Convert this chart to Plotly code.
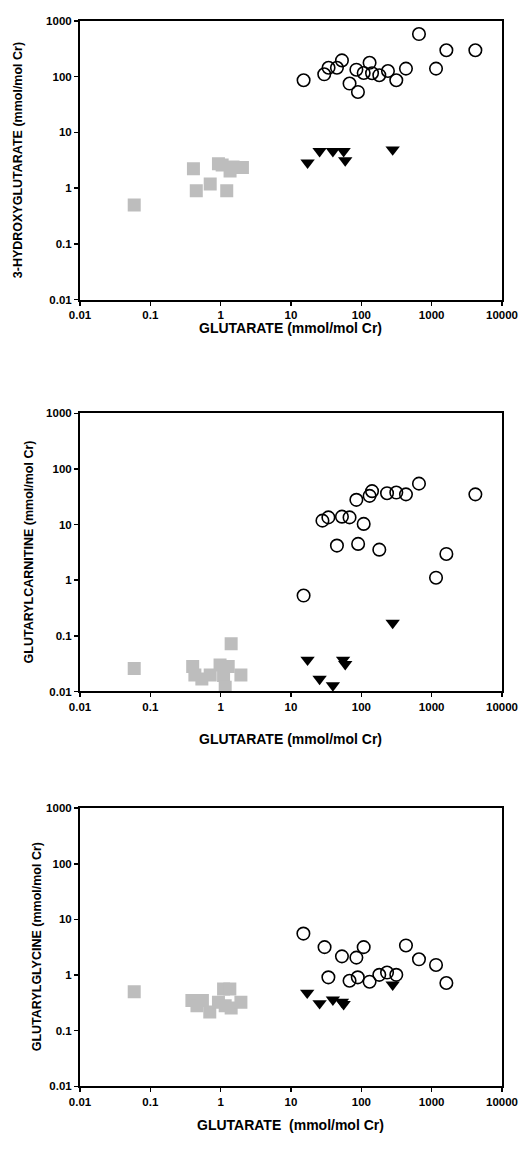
import plotly.graph_objects as go

# ---------------- data ----------------
# Panel 1: 3-hydroxyglutarate vs glutarate
p1_sq_x = [0.059, 0.41, 0.45, 0.71, 0.93, 1.05, 1.22, 1.36, 1.5, 2.04]
p1_sq_y = [0.50, 2.23, 0.90, 1.18, 2.74, 2.6, 0.90, 2.03, 2.4, 2.33]
p1_ci_x = [15.1, 29.7, 34.2, 45, 53, 68, 85, 89.5, 108, 131, 142, 180, 239, 314, 431, 660, 1153, 1618, 4180]
p1_ci_y = [86, 110, 144, 144, 195, 75, 133, 53, 116, 177, 115, 106, 126, 86, 139, 580, 139, 297, 297]
p1_tr_x = [17.2, 25.5, 39.4, 56, 59, 279]
p1_tr_y = [2.86, 4.6, 4.6, 4.6, 3.14, 4.9]

# Panel 2: glutarylcarnitine vs glutarate
p2_sq_x = [0.059, 0.40, 0.43, 0.54, 0.71, 0.98, 1.1, 1.16, 1.28, 1.41, 1.94]
p2_sq_y = [0.026, 0.028, 0.0198, 0.0168, 0.0198, 0.030, 0.0193, 0.0119, 0.028, 0.072, 0.0198]
p2_ci_x = [15.1, 28, 34, 45, 53, 68, 85, 90, 108, 131, 142, 180, 232, 314, 431, 660, 1153, 1618, 4180]
p2_ci_y = [0.53, 11.8, 13.5, 4.2, 13.9, 13.5, 27.9, 4.5, 10.3, 32.9, 40, 3.55, 36.7, 37.7, 35, 54.6, 1.11, 2.97, 35]
p2_tr_x = [17.2, 25.5, 39.4, 55, 59, 279]
p2_tr_y = [0.037, 0.0168, 0.0128, 0.037, 0.031, 0.171]

# Panel 3: glutarylglycine vs glutarate
p3_sq_x = [0.059, 0.39, 0.46, 0.55, 0.70, 0.93, 1.1, 1.16, 1.35, 1.41, 1.94]
p3_sq_y = [0.50, 0.35, 0.28, 0.35, 0.216, 0.325, 0.56, 0.28, 0.56, 0.255, 0.325]
p3_ci_x = [15, 30, 34, 53, 68, 85, 89, 108, 131, 180, 232, 314, 431, 660, 1153, 1618]
p3_ci_y = [5.57, 3.18, 0.91, 2.17, 0.79, 2.06, 0.91, 3.18, 0.76, 1.01, 1.11, 1.01, 3.41, 1.92, 1.52, 0.72]
p3_tr_x = [17, 25.5, 39.4, 53, 56, 279]
p3_tr_y = [0.48, 0.31, 0.36, 0.33, 0.30, 0.67]

x_tickvals = [0.01, 0.1, 1, 10, 100, 1000, 10000]
x_ticktext = ["0.01", "0.1", "1", "10", "100", "1000", "10000"]
y_tickvals = [0.01, 0.1, 1, 10, 100, 1000]
y_ticktext = ["0.01", "0.1", "1", "10", "100", "1000"]

y_titles = ["3-HYDROXYGLUTARATE (mmol/mol Cr)",
            "GLUTARYLCARNITINE (mmol/mol Cr)",
            "GLUTARYLGLYCINE (mmol/mol Cr)"]
x_titles = ["GLUTARATE (mmol/mol Cr)",
            "GLUTARATE (mmol/mol Cr)",
            "GLUTARATE  (mmol/mol Cr)"]

panels = [
    (p1_sq_x, p1_sq_y, p1_ci_x, p1_ci_y, p1_tr_x, p1_tr_y),
    (p2_sq_x, p2_sq_y, p2_ci_x, p2_ci_y, p2_tr_x, p2_tr_y),
    (p3_sq_x, p3_sq_y, p3_ci_x, p3_ci_y, p3_tr_x, p3_tr_y),
]

# ---------------- layout geometry ----------------
W, H = 519, 1149
L, R = 80, 17
panel_px = [(15, 296.7), (411.7, 692.7), (810.7, 1091.7)]  # top, bottom in px
xtitle_px = [325, 741, 1131]
ytitle_x_px = [18, 29, 37]

FONT = "Liberation Sans, Arial, sans-serif"
GRAY = "#bdbdbd"

fig = go.Figure()
for i, (sx, sy, cx, cy, tx, ty) in enumerate(panels):
    xa = "x" if i == 0 else f"x{i+1}"
    ya = "y" if i == 0 else f"y{i+1}"
    fig.add_trace(go.Scatter(x=sx, y=sy, mode="markers", xaxis=xa, yaxis=ya,
                             marker=dict(symbol="square", size=13, color=GRAY,
                                         line=dict(width=0)), showlegend=False))
    fig.add_trace(go.Scatter(x=cx, y=cy, mode="markers", xaxis=xa, yaxis=ya,
                             marker=dict(symbol="circle-open", size=12.5, color="black",
                                         line=dict(width=1.6, color="black")),
                             showlegend=False))
    fig.add_trace(go.Scatter(x=tx, y=ty, mode="markers", xaxis=xa, yaxis=ya,
                             marker=dict(symbol="triangle-down", size=12.5, color="black",
                                         line=dict(width=0)), showlegend=False))

layout = dict(
    width=W, height=H,
    margin=dict(l=L, r=R, t=0, b=0),
    paper_bgcolor="white", plot_bgcolor="white",
    showlegend=False,
    font=dict(family=FONT, color="black"),
)

axis_common = dict(
    type="log", showgrid=False, zeroline=False,
    showline=True, linecolor="black", linewidth=2, mirror=True,
    ticks="outside", ticklen=4, tickwidth=1.5, tickcolor="black",
    tickfont=dict(family=FONT, size=11.5, color="black", weight="bold"),
)

annotations = []
for i in range(3):
    top, bot = panel_px[i]
    dom = [1 - bot / H, 1 - top / H]
    xk = "xaxis" if i == 0 else f"xaxis{i+1}"
    yk = "yaxis" if i == 0 else f"yaxis{i+1}"
    ya = "y" if i == 0 else f"y{i+1}"
    xa = "x" if i == 0 else f"x{i+1}"
    layout[xk] = dict(axis_common, range=[-2, 4], anchor=ya,
                      tickvals=x_tickvals, ticktext=x_ticktext, domain=[0, 1])
    layout[yk] = dict(axis_common, range=[-2, 3], anchor=xa, domain=dom,
                      tickvals=y_tickvals, ticktext=y_ticktext)
    annotations.append(dict(
        text=x_titles[i], xref="paper", yref="paper",
        x=(290.5 - L) / (W - L - R), y=1 - xtitle_px[i] / H,
        xanchor="center", yanchor="middle", showarrow=False,
        font=dict(family=FONT, size=14, color="black", weight="bold")))
    annotations.append(dict(
        text=y_titles[i], xref="paper", yref="paper",
        x=(ytitle_x_px[i] - L) / (W - L - R), y=1 - (top + bot) / 2 / H,
        xanchor="center", yanchor="middle", showarrow=False, textangle=-90,
        font=dict(family=FONT, size=12.5, color="black", weight="bold")))

layout["annotations"] = annotations
fig.update_layout(**layout)
fig.write_html("out.html",
               config={"displayModeBar": False, "staticPlot": True},
               post_script=["document.body.style.margin='0';"
                            "document.body.style.overflow='hidden';"])
